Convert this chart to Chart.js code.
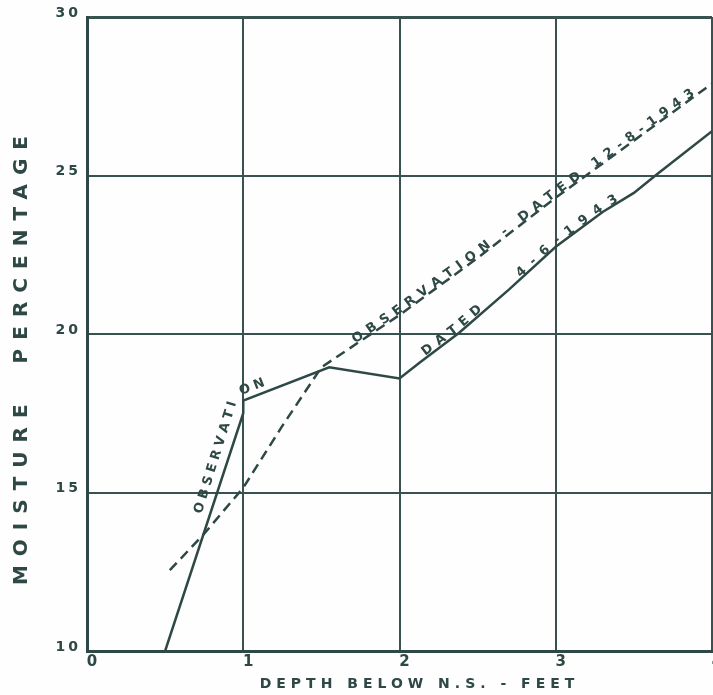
<!DOCTYPE html>
<html>
<head>
<meta charset="utf-8">
<script src="https://cdn.jsdelivr.net/npm/chart.js@4/dist/chart.umd.min.js"></script>
<style>
  html, body { margin: 0; padding: 0; background: #fdfefd; overflow: hidden; }
  #wrap { width: 713px; height: 695px; }
</style>
</head>
<body>
<div id="wrap"><canvas id="c" width="713" height="695"></canvas></div>
<script>
// ---- data ----
const depthTicks = [0, 1, 2, 3, 4];
const moistureTicks = [10, 15, 20, 25, 30];

// Observation dated 4-6-1943 (solid line)
const depthApr = [0.5, 1.0, 1.0, 1.55, 2.0, 2.13, 2.38, 2.7, 3.0, 3.3, 3.5, 3.65, 4.0];
const moistApr = [10.0, 17.5, 17.9, 18.95, 18.6, 19.1, 20.03, 21.4, 22.75, 23.85, 24.45, 25.05, 26.4];

// Observation dated 12-8-1943 (dashed line)
const depthDec = [0.53, 0.75, 1.0, 1.25, 1.5, 2.0, 2.5, 3.0, 3.5, 4.0];
const moistDec = [12.55, 13.7, 15.15, 17.1, 18.95, 20.6, 22.4, 24.3, 26.1, 27.9];

// Hand lettering along the curves
const noteTexts  = ['OBSERVATION', 'OBSERVATION - DATED 12-8-1943', 'DATED', '4-6-1943'];
const noteSeries = [0, 1, 0, 0];
const noteStart  = [0.78, 1.75, 2.2, 2.8];

const xTitle = 'DEPTH BELOW N.S. - FEET';
const yTitle = 'MOISTURE  PERCENTAGE';

// ---- styling ----
const INK = '#2e4845';
const GRID = '#37524f';
const FONT = "'DejaVu Sans', sans-serif";

const toPts = (xs, ys) => xs.map((x, i) => ({ x, y: ys[i] }));

// letter spacing / nudges for the library-drawn axis texts
const axisTextPlugin = {
  id: 'axisText',
  beforeDraw(chart) {
    const cfg = {
      x: { title: '5px', labels: '0px', shift: [20, 0] },
      y: { title: '9px', labels: '3px', shift: [0, 22] }
    };
    for (const id of ['x', 'y']) {
      const s = chart.scales[id];
      if (!s || s._lsPatched) continue;
      const oT = s.drawTitle, oL = s.drawLabels;
      s.drawTitle = function (...a) {
        const c = this.ctx; c.save();
        c.letterSpacing = cfg[id].title;
        c.translate(cfg[id].shift[0], cfg[id].shift[1]);
        oT.apply(this, a); c.restore();
      };
      s.drawLabels = function (...a) {
        const c = this.ctx; c.save();
        c.letterSpacing = cfg[id].labels;
        oL.apply(this, a); c.restore();
      };
      s._lsPatched = true;
    }
  }
};

// text written along a plotted curve
const curveTextPlugin = {
  id: 'curveText',
  afterDatasetsDraw(chart, args, opts) {
    const ctx = chart.ctx;
    const xs = chart.scales.x;
    ctx.save();
    ctx.letterSpacing = '0px';
    ctx.fillStyle = INK;
    ctx.font = 'bold 13px ' + FONT;
    ctx.textAlign = 'center';
    ctx.textBaseline = 'alphabetic';
    noteTexts.forEach((txt, k) => {
      const raw = chart.getDatasetMeta(noteSeries[k]).data.map(p => ({ x: p.x, y: p.y }));
      // lettering follows the curve but skips tiny vertical jogs
      const pts = raw.filter((p, i) => !(i + 1 < raw.length && Math.abs(raw[i + 1].x - p.x) < 1));
      const segs = [];
      let total = 0;
      for (let i = 1; i < pts.length; i++) {
        const dx = pts[i].x - pts[i - 1].x, dy = pts[i].y - pts[i - 1].y;
        const len = Math.hypot(dx, dy);
        if (len < 0.01) continue;
        segs.push({ a: pts[i - 1], dx, dy, len, s0: total });
        total += len;
      }
      const at = d => {
        let sg = segs[segs.length - 1];
        for (const s of segs) { if (d <= s.s0 + s.len) { sg = s; break; } }
        const t = (d - sg.s0) / sg.len;
        return { x: sg.a.x + sg.dx * t, y: sg.a.y + sg.dy * t, ang: Math.atan2(sg.dy, sg.dx) };
      };
      // start distance: where the curve reaches the start depth
      const px = xs.getPixelForValue(noteStart[k]);
      let d = 0;
      for (const s of segs) {
        if (s.dx > 0 && px >= s.a.x && px <= s.a.x + s.dx) { d = s.s0 + s.len * (px - s.a.x) / s.dx; break; }
      }
      const gap = opts.gaps[k], spacing = opts.spacing[k];
      d -= ctx.measureText(txt[0]).width / 2;
      for (const ch of txt) {
        const w = ctx.measureText(ch).width;
        const p = at(d + w / 2);
        ctx.save();
        ctx.translate(p.x, p.y);
        ctx.rotate(p.ang);
        ctx.fillText(ch, 0, -gap);
        ctx.restore();
        d += w + spacing;
      }
    });
    ctx.restore();
  }
};

new Chart(document.getElementById('c'), {
  type: 'line',
  data: {
    datasets: [
      {
        label: 'Observation dated 4-6-1943',
        data: toPts(depthApr, moistApr),
        borderColor: INK, borderWidth: 2.5, pointRadius: 0, tension: 0, fill: false
      },
      {
        label: 'Observation dated 12-8-1943',
        data: toPts(depthDec, moistDec),
        borderColor: INK, borderWidth: 2.5, borderDash: [10, 6], pointRadius: 0, tension: 0, fill: false
      }
    ]
  },
  options: {
    responsive: false,
    animation: false,
    layout: { padding: { top: 17, right: 1, left: 0, bottom: 0 } },
    plugins: {
      legend: { display: false },
      tooltip: { enabled: false },
      curveText: { gaps: [6, 1, 2, 1], spacing: [4.2, 6.2, 6, 8.5] }
    },
    scales: {
      x: {
        type: 'linear', min: 0, max: 4,
        afterBuildTicks: s => { s.ticks = depthTicks.map(v => ({ value: v })); },
        afterFit: s => { s.height = 44; s.paddingLeft = 0; s.paddingRight = 0; },
        grid: { color: GRID, lineWidth: 2, drawTicks: false },
        border: { display: true, color: INK, width: 3 },
        ticks: {
          color: INK, padding: 2, labelOffset: 5, maxRotation: 0, autoSkip: false,
          font: { family: FONT, size: 15, weight: 'bold' }
        },
        title: {
          display: true, text: xTitle, color: INK,
          font: { family: FONT, size: 14, weight: 'bold' },
          padding: { top: 0, bottom: 2 }
        }
      },
      y: {
        type: 'linear', min: 10, max: 30,
        afterBuildTicks: s => { s.ticks = moistureTicks.map(v => ({ value: v })); },
        afterFit: s => { s.width = 87; s.paddingTop = 0; s.paddingBottom = 0; },
        grid: {
          color: GRID, drawTicks: false,
          lineWidth: c => (c.tick && c.tick.value === 30 ? 3 : 2)
        },
        border: { display: true, color: INK, width: 3 },
        ticks: {
          color: INK, padding: 6, labelOffset: -4, autoSkip: false,
          font: { family: FONT, size: 14, weight: 'bold' }
        },
        title: {
          display: true, text: yTitle, color: INK,
          font: { family: FONT, size: 20, weight: 'bold' },
          padding: { top: 10, bottom: 0 }
        }
      }
    }
  },
  plugins: [axisTextPlugin, curveTextPlugin]
});
</script>
</body>
</html>
